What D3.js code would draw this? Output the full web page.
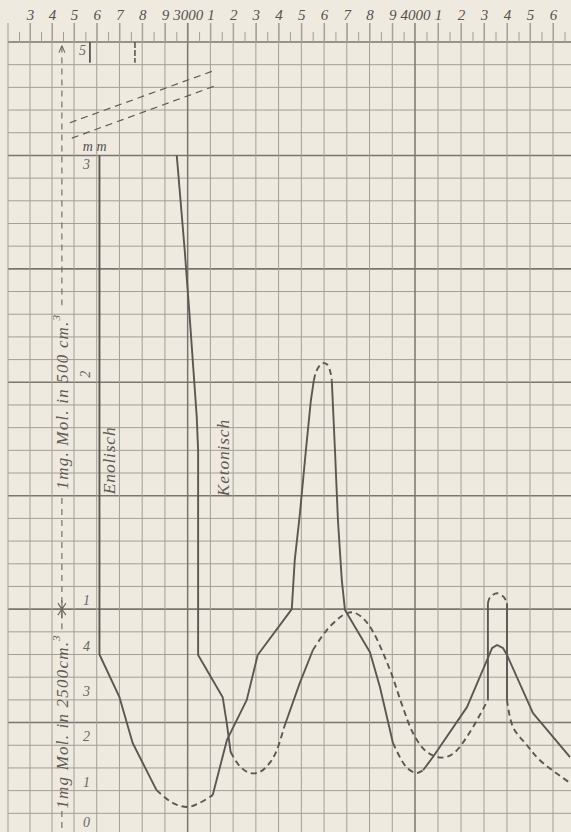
<!DOCTYPE html>
<html><head><meta charset="utf-8">
<script src="https://cdnjs.cloudflare.com/ajax/libs/d3/7.8.5/d3.min.js"></script>
<style>html,body{margin:0;padding:0;background:#efeae0;} svg{display:block}</style>
</head><body>
<svg id="chart" width="571" height="832"></svg>
<script>
// ---------------- DATA ----------------
// x: oscillation frequency (wave number), y: layer thickness in mm (scale for 1 mg Mol. in 2500 cm3)
const topTickValues = [2300,2400,2500,2600,2700,2800,2900,3000,3100,3200,3300,3400,3500,3600,3700,3800,3900,4000,4100,4200,4300,4400,4500,4600];
const topTickLabels = ["3","4","5","6","7","8","9","3000","1","2","3","4","5","6","7","8","9","4000","1","2","3","4","5","6"];
const minorTickValues = [2250,2350,2450,2550,2650,2750,2850,2950,3050,3150,3250,3350,3450,3550,3650,3750,3850,3950,4050,4150,4250,4350,4450,4550,4650];
const gridXValues = [2200,2300,2400,2500,2600,2700,2800,2900,3000,3100,3200,3300,3400,3500,3600,3700,3800,3900,4000,4100,4200,4300,4400,4500,4600];
const heavyXValues = [3000,4000];
const gridYValues = [0,0.5,1,1.5,2,2.5,3,3.5,4,4.5,5,5.5,6,6.5,7,7.5,8,8.5,9,9.5,10,10.5,11,11.5,12,12.5,13,13.5,14,14.5,15,15.5,16,16.5,17,17.5];
const heavyYValues = [0,2.5,5,7.5,10,12.5,15,17.5];

// left scale labels: upper (1 mg Mol. in 500 cm3) and lower (1 mg Mol. in 2500 cm3)
const upperLabelValues = [15,10,5];
const upperLabelTexts = ["3","2","1"];
const lowerLabelValues = [4,3,2,1,0];
const lowerLabelTexts = ["4","3","2","1","0"];

// Enolisch curve (solid with dashed portions)
const enolSolidA = [[2612,15],[2612,4.0],[2700,3.06],[2758,2.05],[2863,1.01]];
const enolDashA  = [[2863,1.01],[2934,0.73],[3000,0.64],[3053,0.73],[3110,0.90]];
const enolSolidB = [[3110,0.90],[3173,2.12],[3260,3.0],[3308,3.99],[3458,5.0],[3471,6.08],[3493,7.07],[3520,8.5],[3542,9.6],[3555,10.04]];
const enolDashB  = [[3555,10.04],[3564,10.22],[3581,10.37],[3595,10.42],[3612,10.40],[3626,10.26],[3634,10.04]];
const enolSolidC = [[3634,10.04],[3648,8.5],[3661,6.96],[3678,5.64],[3692,4.98],[3802,4.05],[3846,3.28],[3903,2.05]];
const enolDashC  = [[3903,2.05],[3965,1.50],[4009,1.39],[4035,1.45]];
const enolSolidD = [[4035,1.45],[4078,1.74],[4226,2.84],[4326,4.03],[4335,4.14],[4357,4.21],[4383,4.14],[4400,3.99],[4513,2.71],[4674,1.74]];

// Ketonisch curve
const ketoSolidA = [[2952,15],[2987,12.91],[3009,11.43],[3040,9.23],[3046,8.5],[3046,3.99],[3154,3.06],[3172,2.49],[3189,1.85]];
const ketoDashA  = [[3189,1.85],[3229,1.54],[3273,1.39],[3317,1.41],[3361,1.61],[3392,1.89],[3423,2.38]];
const ketoSolidB = [[3423,2.38],[3493,3.37],[3551,4.10]];
const ketoDashB  = [[3551,4.10],[3612,4.54],[3670,4.82],[3700,4.91],[3727,4.93],[3767,4.82],[3811,4.54],[3890,3.66],[3943,2.89],[3991,2.27],[4043,1.89],[4096,1.74],[4135,1.74],[4174,1.85],[4239,2.29],[4317,3.0]];
const ketoSolidC = [[4317,3.0],[4317,5.13]];
const ketoDashC  = [[4317,5.13],[4326,5.26],[4357,5.35],[4387,5.26],[4400,5.13]];
const ketoSolidD = [[4400,5.13],[4400,3.0]];
const ketoDashD  = [[4400,3.0],[4426,2.40],[4487,2.0],[4543,1.67],[4674,1.17]];

// region above the axis break (thickness 5 mm)
const topMarksE = [[2570,17.5],[2570,17.04]];
const topMarksK = [[2768,17.5],[2768,17.04]];
const breakLine1 = [[2481,15.72],[3110,16.86]];
const breakLine2 = [[2490,15.38],[3119,16.53]];

// ---------------- CHART ----------------
const W = 571, H = 832;
const svg = d3.select("#chart");
const x = d3.scaleLinear().domain([2200,2500,4000,4600]).range([8,74,415,553]);
const y = d3.scaleLinear().domain([0,17.5]).range([836,42]);

const paper = "#efeae0", gridCol = "#a39e96", heavyCol = "#7a756e", ink = "#5b5752";
const serif = "'Liberation Serif','DejaVu Serif',serif";

svg.append("rect").attr("width",W).attr("height",H).attr("fill",paper);

const grid = svg.append("g");
grid.selectAll("line.h").data(gridYValues).join("line")
  .attr("x1", x(2200)).attr("x2", W)
  .attr("y1", d=>y(d)).attr("y2", d=>y(d))
  .attr("stroke", d=>heavyYValues.includes(d)?heavyCol:gridCol)
  .attr("stroke-width", d=>heavyYValues.includes(d)?1.6:1);
grid.selectAll("line.v").data(gridXValues).join("line")
  .attr("x1", d=>x(d)).attr("x2", d=>x(d))
  .attr("y1", 23).attr("y2", H)
  .attr("stroke", d=>heavyXValues.includes(d)?heavyCol:gridCol)
  .attr("stroke-width", d=>heavyXValues.includes(d)?1.5:1);

// top axis labels
const axTop = svg.append("g").attr("transform",`translate(0,${y(17.5)})`)
  .call(d3.axisTop(x).tickValues(topTickValues).tickFormat((d,i)=>topTickLabels[i]).tickSize(19).tickPadding(3));
axTop.select(".domain").remove();
axTop.selectAll(".tick line").attr("stroke", gridCol);
axTop.selectAll(".tick text").attr("fill","#55514c").attr("font-family",serif)
  .attr("font-style","italic").attr("font-size",15);
const axMinor = svg.append("g").attr("transform",`translate(0,${y(17.5)})`)
  .call(d3.axisTop(x).tickValues(minorTickValues).tickFormat("").tickSize(10));
axMinor.select(".domain").remove();
axMinor.selectAll(".tick line").attr("stroke", gridCol);

// left scale labels
const labelX = x(2555);
svg.selectAll("text.ul").data(upperLabelValues).join("text")
  .attr("x", labelX).attr("y", (d,i)=> i===0 ? y(d)+14 : y(d)-4)
  .attr("text-anchor","middle").attr("font-family",serif).attr("font-style","italic")
  .attr("font-size",14).attr("fill","#6a665f")
  .attr("transform",(d,i)=> i===1 ? `rotate(-90,${labelX},${y(d)-8})` : null)
  .text((d,i)=>upperLabelTexts[i]);
svg.selectAll("text.ll").data(lowerLabelValues).join("text")
  .attr("x", labelX).attr("y", (d,i)=> i===4 ? y(d)-9 : y(d)-4)
  .attr("text-anchor","middle").attr("font-family",serif).attr("font-style","italic")
  .attr("font-size",14).attr("fill","#6a665f")
  .text((d,i)=>lowerLabelTexts[i]);
svg.append("text").attr("x", labelX-4).attr("y", y(17.5)+13)
  .attr("text-anchor","middle").attr("font-family",serif).attr("font-style","italic")
  .attr("font-size",14).attr("fill","#6a665f").text("5");
svg.append("text").attr("x", x(2600)-2).attr("y", y(15)-4)
  .attr("text-anchor","middle").attr("font-family",serif).attr("font-style","italic")
  .attr("font-size",14).attr("fill","#55514c").text("m m");

// left dashed axis annotation
const axX = x(2445);
const dashed = "6,5";
[[17.4,11.7],[7.45,5.07],[4.93,4.5],[0.55,-0.2]].forEach(([a,b])=>{
  svg.append("line").attr("x1",axX).attr("x2",axX).attr("y1",y(a)).attr("y2",y(b))
    .attr("stroke","#6a665f").attr("stroke-width",1.1).attr("stroke-dasharray",dashed);
});
svg.append("path").attr("d",`M${axX},${y(17.42)} l-3,7 M${axX},${y(17.42)} l3,7`)
  .attr("stroke","#6a665f").attr("fill","none").attr("stroke-width",1.1);
const my = y(5);
svg.append("path").attr("d",`M${axX-4},${my-6} L${axX},${my} L${axX+4},${my-6} M${axX-4},${my+6} L${axX},${my} L${axX+4},${my+6} M${axX},${my-9} L${axX},${my+9}`)
  .attr("stroke","#6a665f").attr("fill","none").attr("stroke-width",1.1);

function rotText(txt, cx, cy, size, spacing, sup){
  const t = svg.append("text").attr("x",cx).attr("y",cy)
    .attr("transform",`rotate(-90,${cx},${cy})`)
    .attr("text-anchor","middle").attr("dominant-baseline","middle")
    .attr("letter-spacing", spacing)
    .attr("font-family",serif).attr("font-style","italic").attr("font-size",size).attr("fill","#5f5b55");
  t.append("tspan").text(txt);
  if(sup){ t.append("tspan").attr("font-size",size*0.65).attr("dy",-7).text(sup); }
  return t;
}
rotText("1mg. Mol. in 500  cm.", axX+2, (y(11.7)+y(7.45))/2, 17, 1.2, "3");
rotText("1mg Mol. in 2500cm.", axX+2, (y(4.5)+y(0.55))/2, 17, 1.2, "3");
rotText("Enolisch", x(2665), y(8.28), 17.5, 0.8);
rotText("Ketonisch", x(3165), y(8.34), 17.5, 0.8);

// top break marks
const lineGen = d3.line().x(d=>x(d[0])).y(d=>y(d[1]));
[breakLine1, breakLine2].forEach(l=>{
  svg.append("path").attr("d", lineGen(l)).attr("fill","none")
    .attr("stroke","#5f5b55").attr("stroke-width",1.2).attr("stroke-dasharray","7,5");
});
svg.append("path").attr("d", lineGen(topMarksE)).attr("stroke",ink).attr("stroke-width",1.8).attr("fill","none");
svg.append("path").attr("d", lineGen(topMarksK)).attr("stroke",ink).attr("stroke-width",1.6).attr("fill","none").attr("stroke-dasharray","6,2");

// curves
const smooth = d3.line().x(d=>x(d[0])).y(d=>y(d[1])).curve(d3.curveCatmullRom.alpha(0.5));
const straight = d3.line().x(d=>x(d[0])).y(d=>y(d[1]));
const segs = [
  [enolSolidA,false,false],[enolDashA,true,true],[enolSolidB,false,false],[enolDashB,true,true],
  [enolSolidC,false,false],[enolDashC,true,true],[enolSolidD,false,false],
  [ketoSolidA,false,false],[ketoDashA,true,true],[ketoSolidB,false,false],[ketoDashB,true,true],
  [ketoSolidC,false,false],[ketoDashC,true,true],[ketoSolidD,false,false],[ketoDashD,true,true]
];
segs.forEach(([pts,dash,sm])=>{
  svg.append("path").attr("d",(sm?smooth:straight)(pts)).attr("fill","none")
    .attr("stroke",ink).attr("stroke-width",1.9).attr("stroke-linejoin","round")
    .attr("stroke-dasharray", dash?"6,4":null);
});
</script>
</body></html>
